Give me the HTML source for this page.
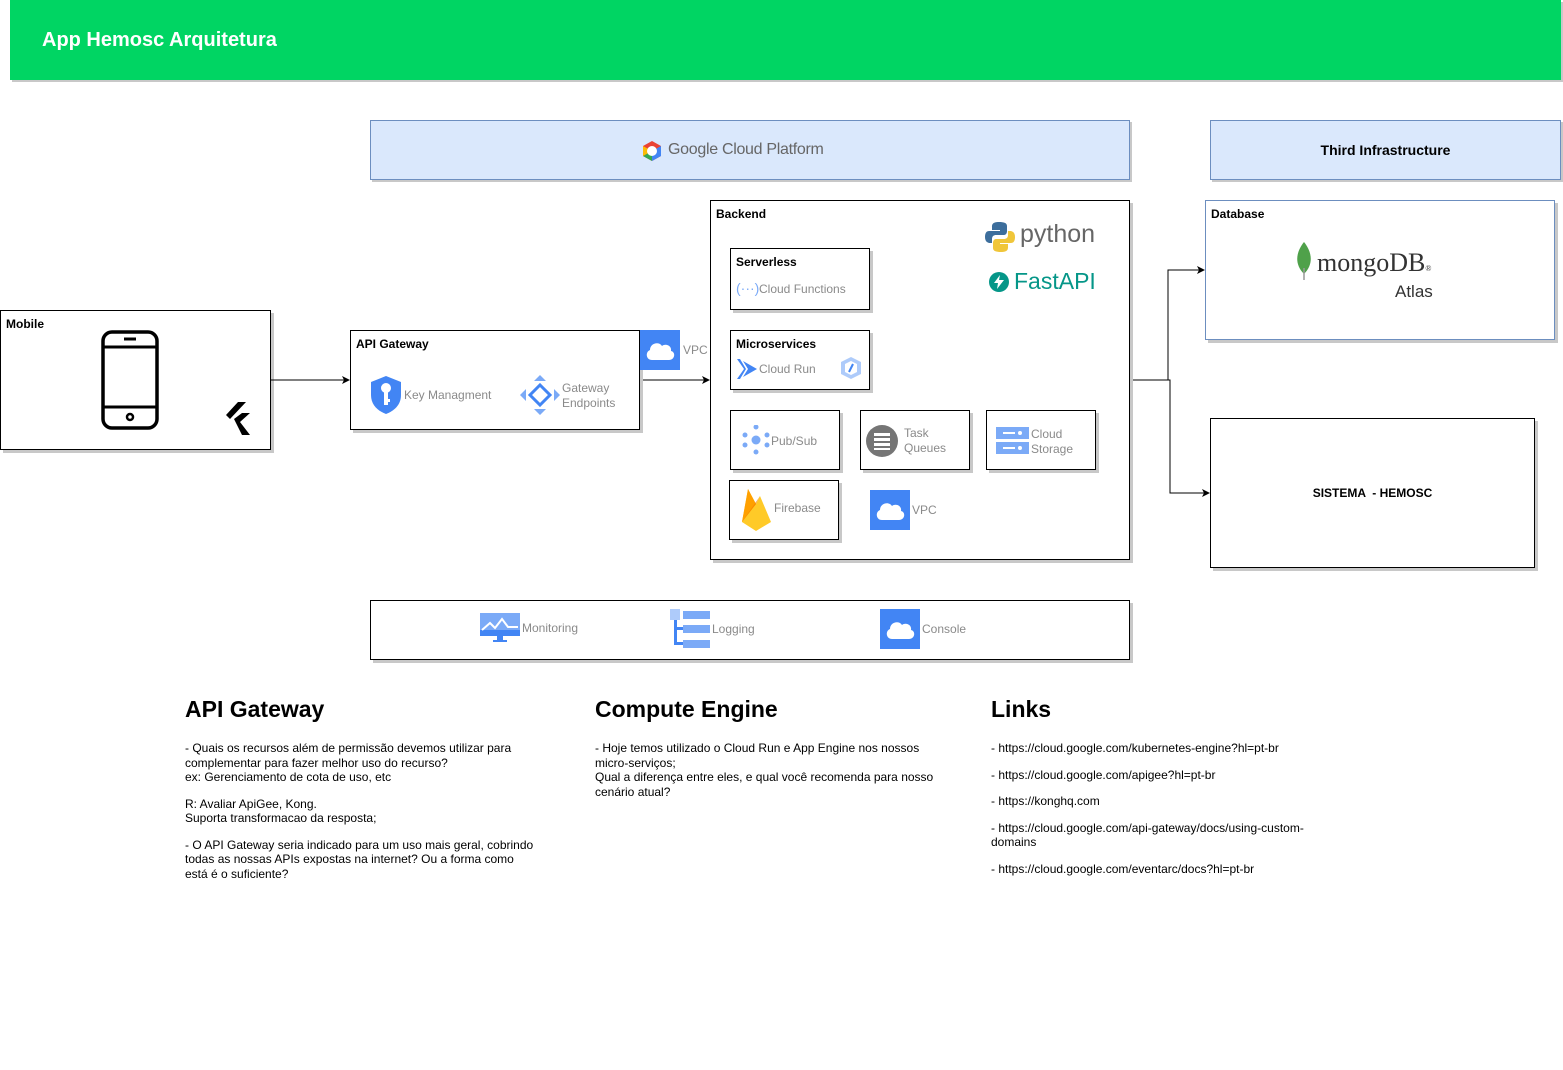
<!DOCTYPE html>
<html><head><meta charset="utf-8">
<style>
*{margin:0;padding:0;box-sizing:border-box}
body{width:1563px;height:1070px;background:#fff;position:relative;overflow:hidden;font-family:"Liberation Sans",sans-serif;color:#000}
.a{position:absolute}
.box{position:absolute;border:1px solid #000;background:#fff;box-shadow:3px 3px 0 #c8c8c8}
.t{position:absolute;font-size:12px;font-weight:bold}
.g{position:absolute;color:#8a8a8a;font-size:12px;line-height:15px}
.cloud{position:absolute;background:#4285f4}
h2{position:absolute;font-size:23px;font-weight:bold}
.p{position:absolute;font-size:12px;line-height:14.5px}
.p div{margin-bottom:12px}
</style></head><body>
<div class="a" style="left:10px;top:0;width:1551px;height:80px;background:#00d563;box-shadow:2px 2px 0 #c8c8c8"></div>
<div class="a" style="left:42px;top:29px;color:#fff;font-weight:bold;font-size:20px">App Hemosc Arquitetura</div>

<div class="a" style="left:370px;top:120px;width:760px;height:60px;background:#dae8fc;border:1px solid #6c8ebf;box-shadow:2px 2px 0 #c8c8c8"></div>
<svg class="a" style="left:640px;top:139px" width="24" height="24" viewBox="0 0 24 24"><path d="M12 2 L21 7 L21 17 L12 22 L3 17 L3 7Z" fill="#ea4335"/><path d="M21 7 L21 17 L12 22 L12 12Z" fill="#4285f4"/><path d="M3 17 L12 22 L12 12Z" fill="#34a853"/><path d="M3 7 L3 17 L12 12Z" fill="#fbbc05"/><circle cx="12" cy="12" r="5" fill="#fff"/></svg>
<div class="a" style="left:668px;top:141px;font-size:16px;color:#666;letter-spacing:-0.3px">Google Cloud Platform</div>

<div class="a" style="left:1210px;top:120px;width:351px;height:60px;background:#dae8fc;border:1px solid #6c8ebf;box-shadow:2px 2px 0 #c8c8c8"></div>
<div class="a" style="left:1210px;top:142px;width:351px;text-align:center;font-weight:bold;font-size:14px">Third Infrastructure</div>

<!-- Mobile -->
<div class="box" style="left:0;top:310px;width:271px;height:140px"></div>
<div class="t" style="left:6px;top:317px">Mobile</div>
<svg class="a" style="left:100px;top:330px" width="60" height="100"><rect x="3" y="2" width="54" height="96" rx="9" fill="none" stroke="#000" stroke-width="3.5"/><line x1="3" y1="17" x2="57" y2="17" stroke="#000" stroke-width="3"/><line x1="3" y1="77" x2="57" y2="77" stroke="#000" stroke-width="3"/><line x1="24" y1="9" x2="36" y2="9" stroke="#000" stroke-width="3"/><circle cx="30" cy="87" r="3" fill="none" stroke="#000" stroke-width="2.5"/></svg>
<svg class="a" style="left:222px;top:402px" width="30" height="34"><path d="M16 0 L24 0 L8 17 L4 13Z" fill="#000"/><path d="M12 17 L20 11 L28 11 L18 20 L28 33 L20 33Z" fill="#000"/></svg>

<!-- arrows -->
<svg class="a" style="left:0;top:0" width="1563" height="1070">
<defs><marker id="m" markerWidth="8" markerHeight="8" refX="7" refY="4" orient="auto"><path d="M0 0 L8 4 L0 8 L2 4Z" fill="#000"/></marker></defs>
<line x1="271" y1="380" x2="349" y2="380" stroke="#000" marker-end="url(#m)"/>
<line x1="640" y1="380" x2="709" y2="380" stroke="#000" marker-end="url(#m)"/>
<polyline points="1130,380 1168,380 1168,270 1204,270" fill="none" stroke="#000" marker-end="url(#m)"/>
<polyline points="1130,380 1170,380 1170,493 1209,493" fill="none" stroke="#000" marker-end="url(#m)"/>
</svg>

<!-- API Gateway -->
<div class="box" style="left:350px;top:330px;width:290px;height:100px"></div>
<div class="t" style="left:356px;top:337px">API Gateway</div>
<svg class="a" style="left:369px;top:375px" width="34" height="40"><path d="M17 1 L32 7 L32 20 C32 30 25 36 17 39 C9 36 2 30 2 20 L2 7Z" fill="#4285f4"/><circle cx="17" cy="13" r="5" fill="#fff"/><rect x="15" y="16" width="4" height="14" fill="#fff"/><rect x="17" y="24" width="4" height="3" fill="#fff"/></svg>
<div class="g" style="left:404px;top:388px">Key Managment</div>
<svg class="a" style="left:520px;top:375px" width="40" height="40"><path d="M20 0 L26 6 L14 6Z M20 40 L26 34 L14 34Z M0 20 L6 14 L6 26Z M40 20 L34 14 L34 26Z" fill="#7baaf7"/><path d="M20 10 L30 20 L20 30 L10 20Z" fill="none" stroke="#4285f4" stroke-width="3"/></svg>
<div class="g" style="left:562px;top:381px">Gateway<br>Endpoints</div>
<div class="cloud" style="left:640px;top:330px;width:40px;height:40px"></div>
<svg class="a" style="left:644px;top:338px" width="32" height="24"><path d="M8 22 C2 22 1 14 6 12 C6 5 15 3 18 8 C22 5 28 8 27 13 C32 14 31 22 25 22Z" fill="#fff"/></svg>
<div class="g" style="left:683px;top:343px">VPC</div>

<!-- Backend -->
<div class="box" style="left:710px;top:200px;width:420px;height:360px"></div>
<div class="t" style="left:716px;top:207px">Backend</div>
<svg class="a" style="left:984px;top:221px" width="32" height="32"><path d="M15 1 C8 1 8 4 8 6 L8 9 L16 9 L16 10 L5 10 C1 10 1 15 1 16 C1 21 4 22 6 22 L8 22 L8 18 C8 15 10 14 12 14 L20 14 C22 14 23 12 23 10 L23 5 C23 2 20 1 15 1Z" fill="#3d6e9c"/><path d="M17 31 C24 31 24 28 24 26 L24 23 L16 23 L16 22 L27 22 C31 22 31 17 31 16 C31 11 28 10 26 10 L24 10 L24 14 C24 17 22 18 20 18 L12 18 C10 18 9 20 9 22 L9 27 C9 30 12 31 17 31Z" fill="#f0c63a"/></svg>
<div class="a" style="left:1020px;top:220px;font-size:25px;color:#666">python</div>
<svg class="a" style="left:989px;top:272px" width="20" height="20"><circle cx="10" cy="10" r="10" fill="#059688"/><path d="M11 3 L5 11 L9 11 L8 17 L15 8 L10 8Z" fill="#fff"/></svg>
<div class="a" style="left:1014px;top:268px;font-size:23px;color:#059688">FastAPI</div>

<div class="box" style="left:730px;top:248px;width:140px;height:62px"></div>
<div class="t" style="left:736px;top:255px">Serverless</div>
<div class="a" style="left:736px;top:280px;color:#7baaf7;font-size:14px">(···)</div>
<div class="g" style="left:759px;top:282px">Cloud Functions</div>

<div class="box" style="left:730px;top:330px;width:140px;height:60px"></div>
<div class="t" style="left:736px;top:337px">Microservices</div>
<svg class="a" style="left:736px;top:358px" width="22" height="22"><path d="M1 1 L8 11 L1 21 L4 21 L10 11 L4 1Z" fill="#4285f4"/><path d="M7 3 L21 11 L7 19 L12 11Z" fill="#4285f4"/></svg>
<div class="g" style="left:759px;top:362px">Cloud Run</div>
<svg class="a" style="left:840px;top:356px" width="22" height="24"><path d="M11 1 L21 6 L21 18 L11 23 L1 18 L1 6Z" fill="#aecbfa"/><path d="M11 5 L17 8 L17 16 L11 19 L5 16 L5 8Z" fill="#fff"/><line x1="13" y1="8" x2="9" y2="16" stroke="#4285f4" stroke-width="2"/></svg>

<div class="box" style="left:730px;top:410px;width:110px;height:60px"></div>
<svg class="a" style="left:742px;top:425px" width="28" height="30"><g fill="#7baaf7"><circle cx="14" cy="2" r="2.5"/><circle cx="3" cy="10" r="2.5"/><circle cx="25" cy="10" r="2.5"/><circle cx="3" cy="20" r="2.5"/><circle cx="25" cy="20" r="2.5"/><circle cx="14" cy="27" r="2.5"/><circle cx="14" cy="15" r="4.5"/></g></svg>
<div class="g" style="left:771px;top:434px">Pub/Sub</div>

<div class="box" style="left:860px;top:410px;width:110px;height:60px"></div>
<svg class="a" style="left:865px;top:424px" width="34" height="34"><circle cx="17" cy="17" r="16" fill="#757575"/><g fill="#fff"><rect x="9" y="9" width="16" height="3"/><rect x="9" y="14" width="16" height="3"/><rect x="9" y="19" width="16" height="3"/><rect x="9" y="24" width="16" height="2"/></g></svg>
<div class="g" style="left:904px;top:426px">Task<br>Queues</div>

<div class="box" style="left:986px;top:410px;width:110px;height:60px"></div>
<svg class="a" style="left:996px;top:427px" width="34" height="28"><rect x="0" y="0" width="33" height="12" fill="#7baaf7"/><rect x="0" y="15" width="33" height="12" fill="#7baaf7"/><g fill="#fff"><rect x="7" y="5" width="12" height="2"/><rect x="7" y="20" width="12" height="2"/><circle cx="24" cy="6" r="2"/><circle cx="24" cy="21" r="2"/></g></svg>
<div class="g" style="left:1031px;top:427px">Cloud<br>Storage</div>

<div class="box" style="left:729px;top:480px;width:110px;height:60px"></div>
<svg class="a" style="left:740px;top:487px" width="34" height="46"><path d="M2 35 L8 2 L16 17 L20 9 L31 35 L16 44Z" fill="#ffca28"/><path d="M2 35 L8 2 L16 17Z" fill="#ffa000"/><path d="M2 35 L20 9 L16 17Z" fill="#f57c00" opacity=".6"/></svg>
<div class="g" style="left:774px;top:501px">Firebase</div>

<div class="cloud" style="left:870px;top:490px;width:40px;height:40px"></div>
<svg class="a" style="left:874px;top:498px" width="32" height="24"><path d="M8 22 C2 22 1 14 6 12 C6 5 15 3 18 8 C22 5 28 8 27 13 C32 14 31 22 25 22Z" fill="#fff"/></svg>
<div class="g" style="left:912px;top:503px">VPC</div>

<!-- Database -->
<div class="box" style="left:1205px;top:200px;width:350px;height:140px;border-color:#6c8ebf"></div>
<div class="t" style="left:1211px;top:207px">Database</div>
<svg class="a" style="left:1294px;top:242px" width="20" height="38"><path d="M10 0 C18 10 20 22 10 32 C0 22 2 10 10 0Z" fill="#4fa14a"/><line x1="10" y1="26" x2="10" y2="38" stroke="#999" stroke-width="1.5"/></svg>
<div class="a" style="left:1317px;top:248px;font-family:'Liberation Serif',serif;font-size:26px;color:#333">mongoDB<span style="font-size:8px">®</span></div>
<div class="a" style="left:1395px;top:282px;font-size:17px;color:#333">Atlas</div>

<div class="box" style="left:1210px;top:418px;width:325px;height:150px"></div>
<div class="a" style="left:1210px;top:486px;width:325px;text-align:center;font-size:12px;font-weight:bold">SISTEMA &nbsp;- HEMOSC</div>

<!-- bottom bar -->
<div class="box" style="left:370px;top:600px;width:760px;height:60px"></div>
<svg class="a" style="left:480px;top:613px" width="40" height="30"><rect x="0" y="0" width="40" height="23" fill="#7baaf7"/><rect x="0" y="17" width="40" height="6" fill="#4285f4"/><polyline points="2,17 10,10 15,15 22,6 28,14 38,14" fill="none" stroke="#fff" stroke-width="2"/><rect x="17" y="23" width="6" height="4" fill="#4285f4"/><rect x="13" y="27" width="14" height="2" fill="#4285f4"/></svg>
<div class="g" style="left:522px;top:621px">Monitoring</div>
<svg class="a" style="left:670px;top:609px" width="42" height="40"><rect x="0" y="0" width="10" height="11" fill="#aecbfa"/><rect x="13" y="2" width="27" height="8" fill="#7baaf7"/><rect x="13" y="16" width="27" height="8" fill="#7baaf7"/><rect x="13" y="31" width="27" height="8" fill="#7baaf7"/><rect x="4" y="11" width="3" height="25" fill="#4285f4"/><rect x="4" y="18" width="9" height="3" fill="#4285f4"/><rect x="4" y="33" width="9" height="3" fill="#4285f4"/></svg>
<div class="g" style="left:712px;top:622px">Logging</div>
<div class="cloud" style="left:880px;top:609px;width:40px;height:40px"></div>
<svg class="a" style="left:884px;top:617px" width="32" height="24"><path d="M8 22 C2 22 1 14 6 12 C6 5 15 3 18 8 C22 5 28 8 27 13 C32 14 31 22 25 22Z" fill="#fff"/></svg>
<div class="g" style="left:922px;top:622px">Console</div>

<!-- text sections -->
<h2 style="left:185px;top:696px">API Gateway</h2>
<div class="p" style="left:185px;top:741px;width:352px">
<div>- Quais os recursos além de permissão devemos utilizar para complementar para fazer melhor uso do recurso?<br>ex: Gerenciamento de cota de uso, etc</div>
<div>R: Avaliar ApiGee, Kong.<br>Suporta transformacao da resposta;</div>
<div>- O API Gateway seria indicado para um uso mais geral, cobrindo todas as nossas APIs expostas na internet? Ou a forma como está é o suficiente?</div>
</div>
<h2 style="left:595px;top:696px">Compute Engine</h2>
<div class="p" style="left:595px;top:741px;width:360px">
<div>- Hoje temos utilizado o Cloud Run e App Engine nos nossos micro-serviços;<br>Qual a diferença entre eles, e qual você recomenda para nosso cenário atual?</div>
</div>
<h2 style="left:991px;top:696px">Links</h2>
<div class="p" style="left:991px;top:741px;width:330px">
<div>- https://cloud.google.com/kubernetes-engine?hl=pt-br</div>
<div>- https://cloud.google.com/apigee?hl=pt-br</div>
<div>- https://konghq.com</div>
<div>- https://cloud.google.com/api-gateway/docs/using-custom-domains</div>
<div>- https://cloud.google.com/eventarc/docs?hl=pt-br</div>
</div>
</body></html>
